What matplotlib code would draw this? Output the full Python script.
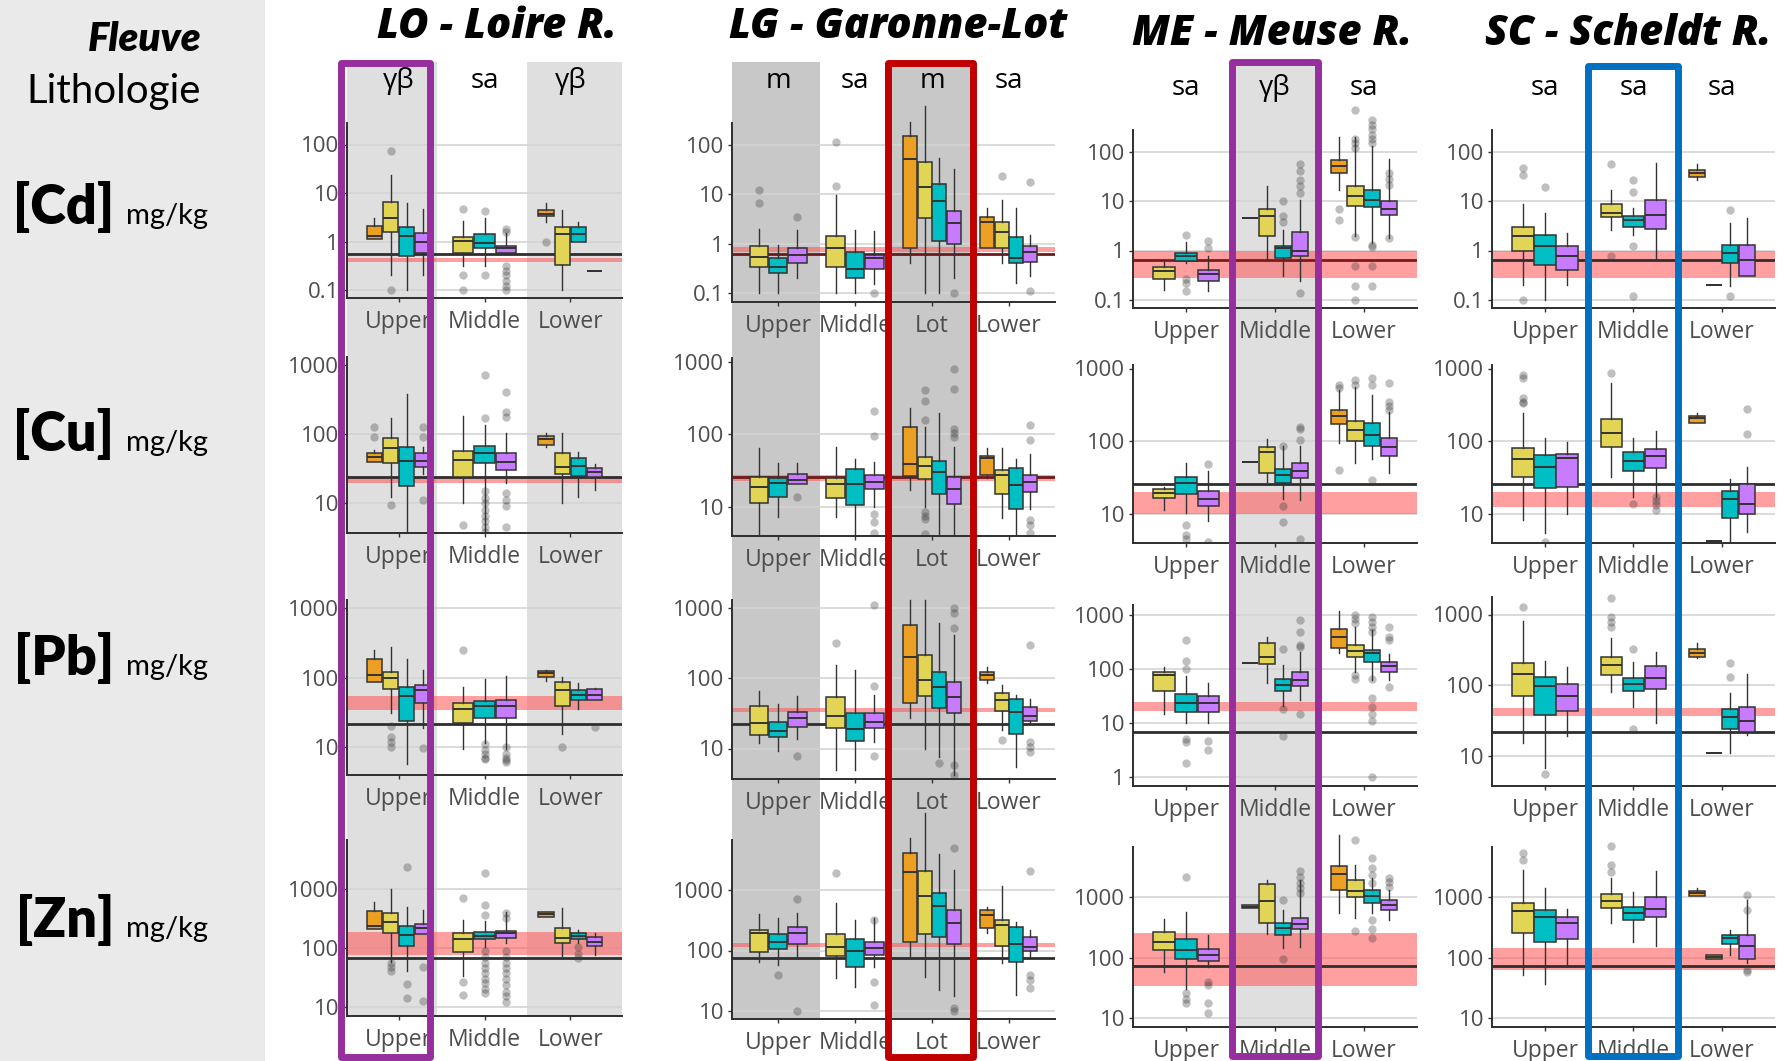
import matplotlib
matplotlib.use("Agg")
import matplotlib.pyplot as plt
from matplotlib import font_manager
from matplotlib.patches import Rectangle
import matplotlib.transforms as mtransforms
from matplotlib.ticker import NullLocator

# ------------------------------------------------------------------ data
RIVERS = ["LO", "LG", "ME", "SC"]
TITLES = ["LO - Loire R.", "LG - Garonne-Lot", "ME - Meuse R.", "SC - Scheldt R."]
METALS = ["Cd", "Cu", "Pb", "Zn"]
GROUPS = {
    "LO": ["Upper", "Middle", "Lower"],
    "LG": ["Upper", "Middle", "Lot", "Lower"],
    "ME": ["Upper", "Middle", "Lower"],
    "SC": ["Upper", "Middle", "Lower"],
}
LITHO = {
    "LO": ["γβ", "sa", "γβ"],
    "LG": ["m", "sa", "m", "sa"],
    "ME": ["sa", "γβ", "sa"],
    "SC": ["sa", "sa", "sa"],
}
SERIES_COLORS = ["#EBA024", "#E2D455", "#00BFC4", "#C77CFF"]

# (group, series, whisker low, q1, median, q3, whisker high, outliers)
LO_CD = [
    ("Upper", 0, 1.15, 1.15, 1.27, 2.1, 3.1, []),
    ("Upper", 1, 0.2, 1.54, 3.1, 6.4, 24, [75, 0.1]),
    ("Upper", 2, 0.1, 0.5, 1.27, 2.0, 6.2, []),
    ("Upper", 3, 0.2, 0.59, 1.0, 1.5, 4.7, []),
    ("Middle", 1, 0.31, 0.59, 1.03, 1.25, 2.7, [4.6, 0.2, 0.1]),
    ("Middle", 2, 0.31, 0.72, 0.95, 1.46, 3.1, [4.3, 0.2]),
    ("Middle", 3, 0.55, 0.59, 0.72, 0.81, 1.5, [1.8, 1.6, 0.31, 0.25, 0.2, 0.15, 0.12, 0.1]),
    ("Lower", 0, 2.5, 3.3, 3.7, 4.5, 6.2, [1.0]),
    ("Lower", 1, 0.1, 0.33, 1.46, 1.95, 4.5, []),
    ("Lower", 2, 1.0, 1.0, 1.46, 2.0, 2.55, []),
    ("Lower", 3, 0.25, 0.25, 0.25, 0.25, 0.25, []),
]
LG_CD = [
    ("Upper", 1, 0.1, 0.33, 0.55, 0.88, 2.0, [12.4, 6.7]),
    ("Upper", 2, 0.1, 0.26, 0.33, 0.51, 0.95, []),
    ("Upper", 3, 0.2, 0.41, 0.6, 0.82, 1.9, [3.5]),
    ("Middle", 1, 0.1, 0.33, 0.82, 1.45, 9.8, [118, 14.5]),
    ("Middle", 2, 0.1, 0.2, 0.31, 0.68, 1.9, []),
    ("Middle", 3, 0.15, 0.3, 0.51, 0.6, 1.8, [0.1]),
    ("Lot", 0, 0.41, 0.82, 52, 150, 300, []),
    ("Lot", 1, 0.1, 3.3, 14, 45, 620, []),
    ("Lot", 2, 0.1, 1.15, 7.4, 16, 54, []),
    ("Lot", 3, 0.2, 0.98, 2.6, 4.5, 33, [0.1]),
    ("Lower", 0, 0.82, 0.82, 2.7, 3.5, 5.3, []),
    ("Lower", 1, 0.41, 0.82, 1.7, 2.7, 7.8, [24]),
    ("Lower", 2, 0.16, 0.41, 0.51, 1.36, 5.3, []),
    ("Lower", 3, 0.22, 0.42, 0.68, 0.88, 1.5, [18, 0.11]),
]
ME_CD = [
    ("Upper", 1, 0.16, 0.26, 0.38, 0.46, 0.6, []),
    ("Upper", 2, 0.55, 0.61, 0.77, 0.9, 1.5, [2.1, 0.26, 0.22, 0.15]),
    ("Upper", 3, 0.15, 0.24, 0.33, 0.41, 0.77, [1.55, 1.13]),
    ("Middle", 0, 4.6, 4.6, 4.6, 4.6, 4.6, []),
    ("Middle", 1, 0.63, 2.0, 4.9, 6.9, 20.5, []),
    ("Middle", 2, 0.3, 0.71, 1.13, 1.26, 2.65, [10, 5, 3.7]),
    ("Middle", 3, 0.24, 0.79, 1.0, 2.4, 10.7, [55, 40, 27, 20, 14.6, 0.14]),
    ("Lower", 0, 17, 37, 50, 67, 200, [7, 4.1]),
    ("Lower", 1, 1.95, 8.1, 12.9, 20, 200, [700, 175, 150, 120, 1.9, 0.48, 0.19, 0.1]),
    ("Lower", 2, 1.4, 7.6, 10.4, 16.5, 128, [440, 350, 280, 220, 180, 150, 1.3, 1.2, 0.48, 0.19]),
    ("Lower", 3, 1.8, 5.1, 7, 10.2, 69, [37, 28, 21, 1.75]),
]
SC_CD = [
    ("Upper", 1, 0.2, 1.0, 2.0, 2.96, 8.9, [47, 34, 0.1]),
    ("Upper", 2, 0.1, 0.5, 1.26, 2.07, 5.8, [19]),
    ("Upper", 3, 0.2, 0.4, 0.77, 1.26, 2.3, []),
    ("Middle", 1, 2.65, 4.8, 5.8, 8.5, 17, [55, 0.79]),
    ("Middle", 2, 2.1, 3.0, 4.2, 4.9, 7.3, [27, 15, 1.22, 0.12]),
    ("Middle", 3, 0.63, 2.7, 5.1, 10.7, 59, []),
    ("Lower", 0, 27, 30.8, 37, 43, 55, []),
    ("Lower", 1, 0.2, 0.2, 0.2, 0.2, 0.2, []),
    ("Lower", 2, 0.19, 0.56, 0.9, 1.32, 3.6, [6.7, 0.12]),
    ("Lower", 3, 0.3, 0.3, 0.63, 1.32, 4.6, []),
]
LO_CU = [
    ("Upper", 0, 40, 40, 47, 54, 59, [126, 92]),
    ("Upper", 1, 12.5, 38, 63, 87.5, 170, [9.5]),
    ("Upper", 2, 2.9, 18, 41, 66, 390, []),
    ("Upper", 3, 27, 34, 41, 53, 66, [126, 92, 11]),
    ("Middle", 1, 10, 24, 42.5, 57, 184, [4.8]),
    ("Middle", 2, 3.8, 39, 53, 68, 136, [725, 170, 15, 12, 10, 8, 6.5, 5.5, 4.5, 3.9]),
    ("Middle", 3, 19.5, 30, 40, 54, 103, [415, 213, 180, 14, 11, 9, 4.6]),
    ("Lower", 0, 66, 70, 85, 96, 103, []),
    ("Lower", 1, 10, 26.5, 34, 54, 103, []),
    ("Lower", 2, 12.5, 24.5, 35, 46, 56, []),
    ("Lower", 3, 15.5, 24, 28, 32, 37, []),
]
LG_CU = [
    ("Upper", 1, 4.2, 11.3, 18.8, 25.8, 64, []),
    ("Upper", 2, 7.3, 13.6, 21.3, 25.3, 40, []),
    ("Upper", 3, 20.5, 20.5, 23.7, 28, 40, [13.6]),
    ("Middle", 1, 7.2, 13, 20.5, 25.3, 67, []),
    ("Middle", 2, 4.2, 10.4, 20.5, 33, 46, []),
    ("Middle", 3, 10, 17.8, 22, 27, 42, [213, 95, 8, 6.1, 4.4]),
    ("Lot", 0, 17, 26.5, 38.6, 128, 230, []),
    ("Lot", 1, 10, 24.5, 36, 48, 128, [414, 284, 158, 8.5, 7.5, 6.8, 4.2]),
    ("Lot", 2, 3.9, 14.8, 30, 43, 200, []),
    ("Lot", 3, 3.9, 11, 17.8, 25.8, 67, [800, 420, 120, 103, 93]),
    ("Lower", 0, 25, 27.2, 46.5, 50, 64, []),
    ("Lower", 1, 7, 15, 27, 32, 64, []),
    ("Lower", 2, 3.4, 9.4, 19.8, 34, 46, []),
    ("Lower", 3, 9.4, 16, 22, 27, 54, [135, 83, 6.5, 5.5, 4.4]),
]
ME_CU = [
    ("Upper", 1, 11, 16.2, 19.4, 21.6, 23.5, []),
    ("Upper", 2, 10.2, 18.6, 26, 31.6, 50, [6.9, 5, 4.5]),
    ("Upper", 3, 7.9, 12.8, 15.7, 20.7, 38, [48, 4.1]),
    ("Middle", 0, 52, 52, 52, 52, 52, []),
    ("Middle", 1, 27.5, 36.6, 71, 82, 105, []),
    ("Middle", 2, 15.7, 26.6, 34, 41, 85, [84, 12.7, 7.7]),
    ("Middle", 3, 15.4, 30.5, 38.6, 49, 85, [158, 145, 103, 4.4]),
    ("Lower", 0, 93, 170, 220, 268, 505, [590, 540, 40]),
    ("Lower", 1, 50, 100, 142, 189, 560, [690, 600]),
    ("Lower", 2, 56, 85, 121, 175, 430, [730, 600, 29]),
    ("Lower", 3, 36.6, 62, 82, 109, 254, [625, 340, 300, 270]),
]
SC_CU = [
    ("Upper", 1, 8.1, 31.5, 56, 79, 246, [810, 730, 388, 350, 330]),
    ("Upper", 2, 5.3, 22.3, 43.3, 64, 109, [4.1]),
    ("Upper", 3, 10, 23.5, 57.6, 66, 98, []),
    ("Middle", 1, 32, 83.5, 130, 201, 625, [860]),
    ("Middle", 2, 17.1, 38.6, 53.5, 71, 109, [13.4]),
    ("Middle", 3, 17, 43, 62, 77, 139, [17, 15, 13, 11.3]),
    ("Lower", 0, 175, 175, 205, 221, 240, []),
    ("Lower", 1, 4.2, 4.2, 4.2, 4.2, 4.2, []),
    ("Lower", 2, 4, 8.6, 15.7, 20.7, 30, []),
    ("Lower", 3, 5.5, 10, 13.4, 25.3, 44, [273, 124]),
]
LO_PB = [
    ("Upper", 0, 88, 88, 109, 184, 253, []),
    ("Upper", 1, 31, 69, 100, 122, 276, [20, 14, 12, 10]),
    ("Upper", 2, 5.7, 23.7, 53.7, 74, 188, []),
    ("Upper", 3, 19.1, 43, 67, 79, 131, [9.9]),
    ("Middle", 1, 9.3, 22.5, 35.4, 43, 74.5, [253]),
    ("Middle", 2, 11.6, 26.4, 38.7, 45.5, 95, [11, 9, 8, 7, 6.8]),
    ("Middle", 3, 9.3, 26.4, 38.7, 48, 106, [10, 8, 7, 6.5, 6.1]),
    ("Lower", 0, 90, 103, 115, 124, 128, []),
    ("Lower", 1, 15.6, 38.7, 67, 88, 103, [10]),
    ("Lower", 2, 35, 48, 57, 67, 85, []),
    ("Lower", 3, 48, 48, 57, 68, 72, [19.4]),
]
LG_PB = [
    ("Upper", 1, 12, 15.5, 23.2, 40, 66, []),
    ("Upper", 2, 9.3, 14.4, 17.8, 24, 43, []),
    ("Upper", 3, 13.6, 20.5, 27.4, 33, 55.5, [7.8]),
    ("Middle", 1, 5, 19.8, 29, 54.5, 153, [313]),
    ("Middle", 2, 5, 12.8, 18.9, 32, 130, []),
    ("Middle", 3, 12.5, 19.3, 24, 31.5, 57, [1080, 77, 7.8]),
    ("Lot", 0, 27, 44, 200, 565, 1270, []),
    ("Lot", 1, 10, 55.5, 94, 212, 1270, []),
    ("Lot", 2, 7.7, 37, 75, 123, 600, [6.3]),
    ("Lot", 3, 4.2, 31.5, 54.5, 89, 406, [1000, 830, 510, 5.8, 4.2]),
    ("Lower", 0, 84, 94, 110, 123, 145, []),
    ("Lower", 1, 18.4, 34.5, 48, 62, 80, [13.3]),
    ("Lower", 2, 5.5, 16, 33, 50, 57, []),
    ("Lower", 3, 22.8, 24.8, 29, 39.2, 51, [293, 12.5, 10.5, 9]),
]
ME_PB = [
    ("Upper", 1, 14.8, 39.2, 78, 89.5, 108, []),
    ("Upper", 2, 10, 16.3, 24, 34, 74.5, [345, 143, 100, 5.2, 4.4, 1.85]),
    ("Upper", 3, 10, 16.3, 24, 32, 56, [4.6, 3.2]),
    ("Middle", 0, 131, 131, 131, 131, 131, []),
    ("Middle", 1, 55, 124, 170, 308, 387, []),
    ("Middle", 2, 21, 40, 51, 65, 119, [232, 18, 5.8]),
    ("Middle", 3, 27, 49, 63, 89.5, 210, [810, 490, 280, 260, 15]),
    ("Lower", 0, 196, 242, 398, 543, 1200, []),
    ("Lower", 1, 90, 170, 220, 279, 609, [1000, 850, 700, 78, 65]),
    ("Lower", 2, 63, 137, 196, 226, 528, [930, 750, 600, 490, 65, 29, 20, 15, 11, 1]),
    ("Lower", 3, 63, 89.5, 114, 137, 190, [590, 400, 345, 46]),
]
SC_PB = [
    ("Upper", 1, 14.8, 69.5, 141, 202, 804, [1280]),
    ("Upper", 2, 6.7, 37, 98, 130, 218, [5.5]),
    ("Upper", 3, 18.8, 42.5, 69.5, 102, 181, []),
    ("Middle", 1, 80, 138, 192, 252, 460, [1700, 920, 780, 660]),
    ("Middle", 2, 49, 83, 105, 125, 214, [324, 23.5]),
    ("Middle", 3, 29, 87, 124, 186, 296, []),
    ("Lower", 0, 240, 252, 287, 320, 390, []),
    ("Lower", 1, 10.7, 10.7, 10.7, 10.7, 10.7, []),
    ("Lower", 2, 11, 23.5, 35.5, 45, 78, [207, 128]),
    ("Lower", 3, 19.6, 21.8, 31, 48, 142, []),
]
LO_ZN = [
    ("Upper", 0, 208, 208, 237, 433, 616, []),
    ("Upper", 1, 58.5, 183, 274, 390, 1000, [56, 48, 40]),
    ("Upper", 2, 40, 110, 166, 240, 506, [2430, 24.5, 14.2]),
    ("Upper", 3, 174, 174, 216, 253, 445, [48, 12.7]),
    ("Middle", 1, 34, 87, 141, 183, 300, [700, 26, 15.8]),
    ("Middle", 2, 105, 141, 160, 185, 292, [1870, 540, 366, 90, 70, 55, 45, 38, 30, 25, 20, 17]),
    ("Middle", 3, 120, 146, 178, 198, 416, [400, 330, 90, 70, 55, 45, 38, 30, 23, 18, 15, 12]),
    ("Lower", 0, 342, 342, 375, 405, 405, []),
    ("Lower", 1, 71, 120, 146, 217, 474, []),
    ("Lower", 2, 120, 142, 162, 178, 203, [105, 80, 67]),
    ("Lower", 3, 76, 108, 128, 156, 178, []),
]
LG_ZN = [
    ("Upper", 1, 65.6, 96, 197, 218, 396, []),
    ("Upper", 2, 57.6, 104, 140, 188, 340, [40]),
    ("Upper", 3, 79, 127, 192, 242, 412, [700, 10]),
    ("Middle", 1, 35, 81, 116, 188, 602, [1890]),
    ("Middle", 2, 25, 54, 100, 155, 319, []),
    ("Middle", 3, 54, 84, 108, 140, 340, [320, 30.5, 12.6]),
    ("Lot", 0, 81, 140, 2010, 4140, 7140, []),
    ("Lot", 1, 37, 188, 796, 2090, 18500, []),
    ("Lot", 2, 22.3, 165, 545, 880, 3930, []),
    ("Lot", 3, 17.7, 127, 288, 467, 2140, [4880, 11.1, 10]),
    ("Lower", 0, 192, 238, 387, 467, 530, []),
    ("Lower", 1, 61, 120, 264, 319, 1160, []),
    ("Lower", 2, 18.4, 63.5, 127, 242, 300, []),
    ("Lower", 3, 79, 98, 116, 169, 218, [2060, 39.5, 33, 23.8]),
]
ME_ZN = [
    ("Upper", 1, 59, 135, 180, 271, 438, []),
    ("Upper", 2, 31, 95, 135, 205, 565, [2200, 26, 21, 17.7]),
    ("Upper", 3, 70, 90, 111, 138, 238, [40, 36, 17.7, 12.4]),
    ("Middle", 0, 658, 658, 700, 746, 746, []),
    ("Middle", 1, 248, 372, 870, 1660, 1930, []),
    ("Middle", 2, 144, 238, 315, 381, 617, [900, 95]),
    ("Middle", 3, 153, 296, 363, 461, 1930, [2760, 2200, 1700, 1400, 1160]),
    ("Lower", 0, 544, 1320, 2430, 3300, 10700, []),
    ("Lower", 1, 450, 1025, 1270, 1930, 3420, [8900, 280]),
    ("Lower", 2, 544, 816, 1050, 1320, 2060, [4420, 3000, 2300, 1700, 420, 300, 210]),
    ("Lower", 3, 420, 617, 747, 903, 1320, [2060, 1800, 1500]),
]
SC_ZN = [
    ("Upper", 1, 51, 254, 602, 816, 2830, [5340, 4140]),
    ("Upper", 2, 37, 180, 467, 617, 1410, []),
    ("Upper", 3, 74, 202, 372, 467, 650, []),
    ("Middle", 1, 372, 675, 870, 1120, 2060, [7140, 3420, 2660]),
    ("Middle", 2, 185, 422, 544, 701, 1240, []),
    ("Middle", 3, 159, 480, 633, 1000, 2760, []),
    ("Lower", 0, 1070, 1070, 1160, 1270, 1410, []),
    ("Lower", 1, 94, 94, 102, 111, 111, []),
    ("Lower", 2, 111, 170, 210, 238, 288, []),
    ("Lower", 3, 81, 94, 159, 238, 903, [1090, 617, 63, 58]),
]
BOXES = {
    ("LO", "Cd"): LO_CD, ("LG", "Cd"): LG_CD, ("ME", "Cd"): ME_CD, ("SC", "Cd"): SC_CD,
    ("LO", "Cu"): LO_CU, ("LG", "Cu"): LG_CU, ("ME", "Cu"): ME_CU, ("SC", "Cu"): SC_CU,
    ("LO", "Pb"): LO_PB, ("LG", "Pb"): LG_PB, ("ME", "Pb"): ME_PB, ("SC", "Pb"): SC_PB,
    ("LO", "Zn"): LO_ZN, ("LG", "Zn"): LG_ZN, ("ME", "Zn"): ME_ZN, ("SC", "Zn"): SC_ZN,
}
# reference value (black line) and reference range (red band)
REF_LINE = {
    ("LO", "Cd"): 0.55, ("LG", "Cd"): 0.63, ("ME", "Cd"): 0.63, ("SC", "Cd"): 0.63,
    ("LO", "Cu"): 24.3, ("LG", "Cu"): 25.8, ("ME", "Cu"): 25.5, ("SC", "Cu"): 25.5,
    ("LO", "Pb"): 21.7, ("LG", "Pb"): 22, ("ME", "Pb"): 7.0, ("SC", "Pb"): 21.8,
    ("LO", "Zn"): 67, ("LG", "Zn"): 74, ("ME", "Zn"): 73, ("SC", "Zn"): 73,
}
REF_BAND = {
    ("LO", "Cd"): (0.37, 0.45), ("LG", "Cd"): (0.68, 0.85), ("ME", "Cd"): (0.28, 1.0), ("SC", "Cd"): (0.28, 1.0),
    ("LO", "Cu"): (20, 24), ("LG", "Cu"): (23, 27), ("ME", "Cu"): (10, 20), ("SC", "Cu"): (12.4, 20),
    ("LO", "Pb"): (34, 55), ("LG", "Pb"): (32.6, 37), ("ME", "Pb"): (16.9, 25), ("SC", "Pb"): (36.4, 47),
    ("LO", "Zn"): (76, 190), ("LG", "Zn"): (116, 132), ("ME", "Zn"): (34.6, 254), ("SC", "Zn"): (63, 144),
}
YTICKS = {"Cd": [0.1, 1, 10, 100], "Cu": [10, 100, 1000], "Pb": [10, 100, 1000], "Zn": [10, 100, 1000]}
YTICKS_ME_PB = [1, 10, 100, 1000]
YTICK_LABELS = {0.1: "0.1", 1: "1", 10: "10", 100: "100", 1000: "1000"}
GRID = {"Cd": [0.1, 1, 10, 100], "Cu": [10, 100], "Pb": [1, 10, 100, 1000], "Zn": [10, 100, 1000]}

# ------------------------------------------------------------------ layout (pixels of a 1790x1061 canvas)
W, H = 1790, 1061
X_EXTENT = {"LO": (347, 622), "LG": (732, 1055), "ME": (1133, 1417), "SC": (1492, 1775)}
ROW_TOP = {"Cd": 95, "Cu": 345, "Pb": 575, "Zn": 805}
# bottom spine px, px of a reference tick, its value, pixels per decade
SCALE = {
    ("LO", "Cd"): (298, 290, 0.1, 48.5), ("LG", "Cd"): (302, 293, 0.1, 49.3),
    ("ME", "Cd"): (308, 300, 0.1, 49.5), ("SC", "Cd"): (308, 300, 0.1, 49.5),
    ("LO", "Cu"): (533, 434.3, 100, 69), ("LG", "Cu"): (536, 434.3, 100, 72.4),
    ("ME", "Cu"): (543, 441, 100, 72.5), ("SC", "Cu"): (543, 441, 100, 72.5),
    ("LO", "Pb"): (775, 677.7, 100, 69.5), ("LG", "Pb"): (779, 678, 100, 70.5),
    ("ME", "Pb"): (786, 615, 1000, 54.1), ("SC", "Pb"): (786, 685, 100, 70.5),
    ("LO", "Zn"): (1015.7, 889.3, 1000, 58.7), ("LG", "Zn"): (1019.3, 890, 1000, 60.5),
    ("ME", "Zn"): (1026.7, 897.3, 1000, 60.5), ("SC", "Zn"): (1026.7, 897.3, 1000, 60.5),
}
SPINE_TOP = {
    "LO": {"Cd": 123, "Cu": 357, "Pb": 600, "Zn": 840},
    "LG": {"Cd": 123, "Cu": 358, "Pb": 600, "Zn": 840},
    "ME": {"Cd": 130, "Cu": 365, "Pb": 605, "Zn": 847},
    "SC": {"Cd": 130, "Cu": 365, "Pb": 597, "Zn": 847},
}
LINE_COLOR = {("LG", "Cd"): "#6E1A1A", ("LG", "Cu"): "#6E1A1A", ("ME", "Cd"): "#7A1A1A"}
TITLE_POS = {"LO": (497, 38), "LG": (898, 38), "ME": (1272, 45), "SC": (1628, 45)}
STRIP_Y = {"LO": 88, "LG": 88, "ME": 95, "SC": 95}
SHADE = {
    "LO": ("#DFDFDF", [(0.4, 1.45), (2.5, 3.6)], 62, 1016),
    "LG": ("#C8C8C8", [(0.4, 1.55), (2.45, 3.52)], 62, 1019),
    "ME": ("#DFDFDF", [(1.55, 2.46)], 65, 1027),
}
HIGHLIGHT = {
    "LO": ((0.33, 1.37), (63, 1057), "#962E9E"),
    "LG": ((2.43, 3.53), (63, 1057), "#C00000"),
    "ME": ((1.52, 2.48), (62, 1056), "#962E9E"),
    "SC": ((1.49, 2.50), (66, 1056), "#0070C0"),
}
METAL_LABEL_Y = {"Cd": 224, "Cu": 451, "Pb": 675, "Zn": 937}
DODGE = 0.75


def pick(*names):
    have = {f.name for f in font_manager.fontManager.ttflist}
    for n in names:
        if n in have:
            return n
    return "DejaVu Sans"


SANS = pick("Open Sans", "Lato", "Noto Sans", "DejaVu Sans")
LEFT = pick("Lato", "Open Sans", "DejaVu Sans")
plt.rcParams["font.family"] = [SANS, "DejaVu Sans"]

fig = plt.figure(figsize=(W / 100, H / 100), dpi=100)
fig.patch.set_facecolor("white")


def fy(y):
    return 1 - y / H


# left label panel
fig.add_artist(Rectangle((0, 0), 265 / W, 1, transform=fig.transFigure,
                         facecolor="#EAEAEA", edgecolor="none", zorder=-3))
fig.text(201 / W, fy(51), "Fleuve", ha="right", va="baseline", fontsize=29,
         fontweight="heavy", style="italic", family=[LEFT, "DejaVu Sans"])
fig.text(201 / W, fy(103), "Lithologie", ha="right", va="baseline", fontsize=29,
         family=[LEFT, "DejaVu Sans"])
for m in METALS:
    fig.text(114 / W, fy(METAL_LABEL_Y[m]), f"[{m}]", ha="right", va="baseline",
             fontsize=39, fontweight="heavy", family=[LEFT, "DejaVu Sans"])
    fig.text(126 / W, fy(METAL_LABEL_Y[m]), "mg/kg", ha="left", va="baseline",
             fontsize=21, family=[LEFT, "DejaVu Sans"])

axes_top = {}
for r, title in zip(RIVERS, TITLES):
    xl, xr = X_EXTENT[r]
    groups = GROUPS[r]
    for m in METALS:
        bottom, ref_px, ref_val, dec = SCALE[(r, m)]
        top = ROW_TOP[m]
        ylo = ref_val * 10 ** (-(bottom - ref_px) / dec)
        yhi = ref_val * 10 ** ((ref_px - top) / dec)
        ax = fig.add_axes([xl / W, fy(bottom), (xr - xl) / W, (bottom - top) / H])
        ax.set_facecolor("none")
        ax.set_yscale("log")
        ax.set_xlim(0.4, len(groups) + 0.6)
        ax.set_ylim(ylo, yhi)
        if m == "Cd":
            axes_top[r] = ax

        # grid lines
        for g in GRID[m]:
            if ylo < g < yhi:
                ax.axhline(g, color="#D4D4D4", lw=1.2, zorder=0.5)

        # reference band and line
        b0, b1 = REF_BAND[(r, m)]
        ax.axhspan(b0, b1, color="#FF5A5A", alpha=0.58, lw=0, zorder=1)
        ax.axhline(REF_LINE[(r, m)], color=LINE_COLOR.get((r, m), "#2E2E2E"), lw=2.0, zorder=1.2)

        # boxes
        rows = BOXES[(r, m)]
        stats, pos, wid, cols = [], [], [], []
        for gi, gname in enumerate(groups, start=1):
            present = sorted([row for row in rows if row[0] == gname], key=lambda t: t[1])
            n = len(present)
            for k, row in enumerate(present):
                _, s, lo, q1, med, q3, hi, fl = row
                stats.append(dict(whislo=lo, q1=q1, med=med, q3=q3, whishi=hi, fliers=fl))
                pos.append(gi - DODGE / 2 + (k + 0.5) * DODGE / n)
                wid.append(DODGE / n * 0.97)
                cols.append(SERIES_COLORS[s])
        bp = ax.bxp(stats, positions=pos, widths=wid, patch_artist=True, showcaps=False,
                    boxprops=dict(edgecolor="#333333", linewidth=1.1),
                    medianprops=dict(color="#333333", linewidth=1.4),
                    whiskerprops=dict(color="#333333", linewidth=1.0),
                    flierprops=dict(marker="o", markerfacecolor="#3A3A3A", markeredgecolor="none",
                                    markersize=6, alpha=0.32),
                    manage_ticks=False, zorder=2)
        for patch, c in zip(bp["boxes"], cols):
            patch.set_facecolor(c)

        # axes styling
        for sp in ("top", "right"):
            ax.spines[sp].set_visible(False)
        for sp in ("left", "bottom"):
            ax.spines[sp].set_color("#2E2E2E")
            ax.spines[sp].set_linewidth(1.4)
        st_px = SPINE_TOP[r][m]
        ax.spines["left"].set_bounds(ylo, ref_val * 10 ** ((ref_px - st_px) / dec))
        ticks = YTICKS_ME_PB if (r, m) == ("ME", "Pb") else YTICKS[m]
        ax.yaxis.set_minor_locator(NullLocator())
        ax.set_yticks(ticks, [YTICK_LABELS[t] for t in ticks])
        ax.set_xticks(range(1, len(groups) + 1), groups)
        ax.tick_params(axis="both", colors="#333333", labelcolor="#4D4D4D", length=3.2, width=1.0)
        ax.tick_params(axis="y", labelsize=16, pad=2.5)
        ax.tick_params(axis="x", labelsize=16.5, pad=5.5)

    # title and lithology strip
    tx, ty = TITLE_POS[r]
    fig.text(tx / W, fy(ty), title, ha="center", va="baseline", fontsize=30,
             fontweight="heavy", style="italic")
    ax0 = axes_top[r]
    trans = mtransforms.blended_transform_factory(ax0.transData, fig.transFigure)
    for gi, lab in enumerate(LITHO[r], start=1):
        fig.text(gi, fy(STRIP_Y[r]), lab, transform=trans, ha="center", va="baseline",
                 fontsize=20, color="black")
    if r in SHADE:
        color, spans, y0, y1 = SHADE[r]
        for a, b in spans:
            fig.add_artist(Rectangle((a, fy(y1)), b - a, (y1 - y0) / H, transform=trans,
                                     facecolor=color, edgecolor="none", zorder=-1))
    (a, b), (y0, y1), ec = HIGHLIGHT[r]
    fig.add_artist(Rectangle((a, fy(y1)), b - a, (y1 - y0) / H, transform=trans,
                             facecolor="none", edgecolor=ec, lw=5.0, joinstyle="round",
                             zorder=10))

fig.savefig("out.png", dpi=100, facecolor="white")
